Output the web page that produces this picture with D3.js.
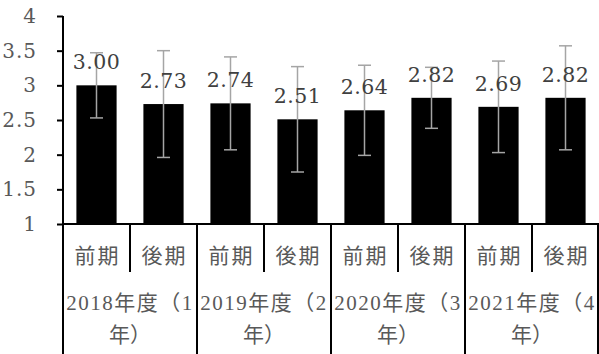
<!DOCTYPE html>
<html><head><meta charset="utf-8">
<script src="https://cdn.jsdelivr.net/npm/d3@7"></script>
<style>
html,body{margin:0;padding:0;background:#fff;}
svg{display:block;}
</style></head>
<body>
<svg id="chart" width="599" height="354"></svg>
<script>
const groups = ["2018年度（1年）", "2019年度（2年）", "2020年度（3年）", "2021年度（4年）"];
const terms = ["前期", "後期"];
const means = [3.00, 2.73, 2.74, 2.51, 2.64, 2.82, 2.69, 2.82];
const sds = [0.47, 0.77, 0.67, 0.76, 0.65, 0.44, 0.66, 0.75];
const yTicks = [1, 1.5, 2, 2.5, 3, 3.5, 4];

(function () {
const svg = d3.select("#chart");
const mLeft = 63, mRight = 599, mTop = 16, mBottom = 224;
const numFont = "'DejaVu Serif', 'Liberation Serif', serif";
const cjkFont = "'Liberation Serif', 'Noto Sans CJK JP', serif";

const rows = [];
groups.forEach((g, gi) => terms.forEach((t, ti) => {
  const i = gi * terms.length + ti;
  rows.push({key: i, group: g, term: t, mean: means[i], sd: sds[i]});
}));

const x = d3.scaleBand().domain(rows.map(d => d.key)).range([mLeft, mRight]).paddingInner(0.4).paddingOuter(0.2);
const xSlot = d3.scaleBand().domain(rows.map(d => d.key)).range([mLeft, mRight]).padding(0);
const xGroup = d3.scaleBand().domain(groups).range([mLeft, mRight]).padding(0);
const y = d3.scaleLinear().domain([1, 4]).range([mBottom, mTop]);

// bars
svg.append("g").selectAll("rect").data(rows).join("rect")
  .attr("x", d => x(d.key)).attr("width", x.bandwidth())
  .attr("y", d => y(d.mean)).attr("height", d => y(1) - y(d.mean))
  .attr("fill", "#000");

// error bars
const eb = svg.append("g").attr("stroke", "#a5a5a5").attr("stroke-width", 1.5);
rows.forEach(d => {
  const cx = x(d.key) + x.bandwidth() / 2;
  const y1 = y(d.mean + d.sd), y2 = y(d.mean - d.sd);
  eb.append("line").attr("x1", cx).attr("x2", cx).attr("y1", y1).attr("y2", y2);
  eb.append("line").attr("x1", cx - 6.5).attr("x2", cx + 6.5).attr("y1", y1).attr("y2", y1);
  eb.append("line").attr("x1", cx - 6.5).attr("x2", cx + 6.5).attr("y1", y2).attr("y2", y2);
});

// data labels
svg.append("g").selectAll("text").data(rows).join("text")
  .attr("x", d => x(d.key) + x.bandwidth() / 2)
  .attr("y", d => y(d.mean) - 16)
  .attr("text-anchor", "middle")
  .attr("font-family", numFont).attr("font-size", 20.5)
  .attr("letter-spacing", 0.5)
  .attr("fill", "#404040")
  .text(d => d.mean.toFixed(2));

// y axis
const yAxis = svg.append("g").attr("transform", `translate(${mLeft},0)`)
  .call(d3.axisLeft(y).tickValues(yTicks).tickSize(6).tickPadding(20).tickFormat(d3.format("")));
yAxis.select(".domain").attr("stroke", "#000").attr("stroke-width", 2).attr("d", `M0,${mTop}V${mBottom}`);
yAxis.selectAll(".tick line").attr("stroke", "#000").attr("stroke-width", 2);
yAxis.selectAll(".tick text").attr("font-family", numFont).attr("font-size", 20)
  .attr("letter-spacing", 1).attr("fill", "#595959");

// x axis baseline
svg.append("line").attr("x1", mLeft).attr("x2", mRight).attr("y1", mBottom).attr("y2", mBottom)
  .attr("stroke", "#000").attr("stroke-width", 2);

// separators
const sep = svg.append("g").attr("stroke", "#000").attr("stroke-width", 2);
rows.forEach(d => {
  if (d.term !== terms[0]) {
    const sx = xSlot(d.key);
    sep.append("line").attr("x1", sx).attr("x2", sx).attr("y1", mBottom).attr("y2", 272);
  }
});
groups.concat([null]).forEach(g => {
  const sx = g ? xGroup(g) : mRight - 1;
  sep.append("line").attr("x1", sx).attr("x2", sx).attr("y1", mBottom).attr("y2", 354);
});

// term labels
svg.append("g").selectAll("text").data(rows).join("text")
  .attr("x", d => xSlot(d.key) + xSlot.bandwidth() / 2 + 1)
  .attr("y", 263)
  .attr("text-anchor", "middle")
  .attr("font-family", cjkFont).attr("font-size", 21)
  .attr("letter-spacing", 2)
  .attr("fill", "#595959")
  .text(d => d.term);

// group labels (wrapped in two lines)
const gl = svg.append("g");
groups.forEach(g => {
  const cx = xGroup(g) + xGroup.bandwidth() / 2;
  const t = gl.append("text").attr("text-anchor", "middle")
    .attr("font-family", cjkFont).attr("font-size", 21).attr("fill", "#595959");
  t.append("tspan").attr("x", cx).attr("y", 310).attr("letter-spacing", 1.5).text(g.slice(0, -2));
  t.append("tspan").attr("x", cx).attr("y", 342).text(g.slice(-2));
});
})();
</script>
</body></html>
